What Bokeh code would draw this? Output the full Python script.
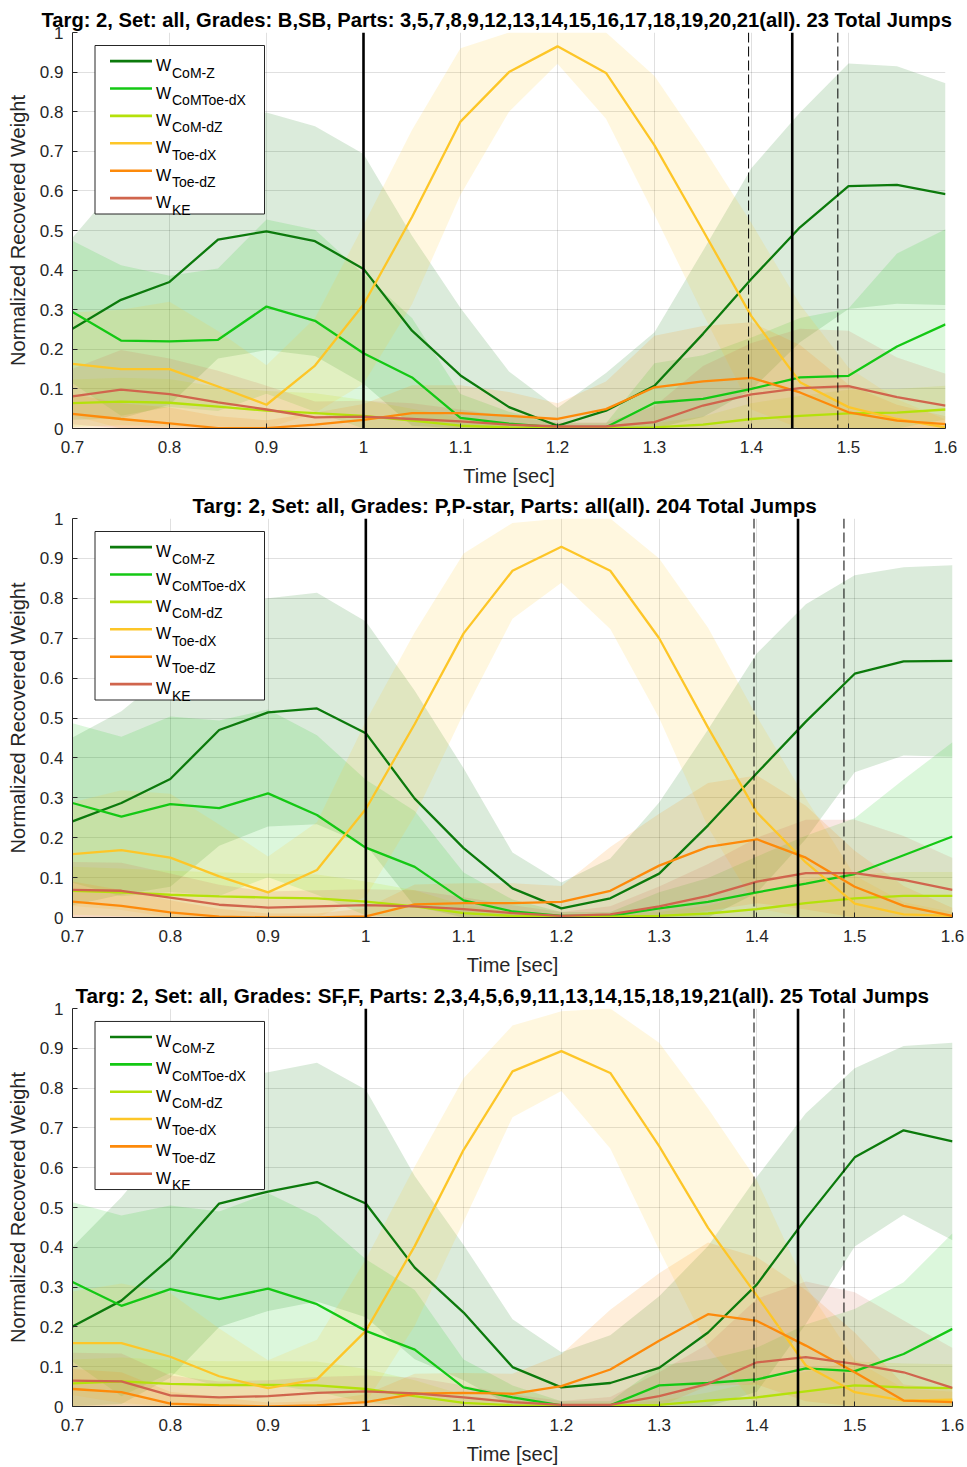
import numpy as np
from bokeh.plotting import figure
from bokeh.models import Span, BoxAnnotation, Label, FixedTicker, Range1d
from bokeh.layouts import column
from bokeh.embed import file_html
from bokeh.resources import INLINE

TIME = [0.7, 0.75, 0.8, 0.85, 0.9, 0.95, 1.0, 1.05, 1.1, 1.15, 1.2, 1.25, 1.3, 1.35, 1.4, 1.45, 1.5, 1.55, 1.6]
X_TICKS = [0.7, 0.8, 0.9, 1.0, 1.1, 1.2, 1.3, 1.4, 1.5, 1.6]
Y_TICKS = [0.0, 0.1, 0.2, 0.3, 0.4, 0.5, 0.6, 0.7, 0.8, 0.9, 1.0]

SERIES = ["CoM-Z", "CoMToe-dX", "CoM-dZ", "Toe-dX", "Toe-dZ", "KE"]
COLORS = ["#0c7a0c", "#14c814", "#b4e10a", "#fdc628", "#fd8a0a", "#d0654d"]

SOLID_EVENTS = [1.0, 1.442]
DASHED_EVENTS = [1.397, 1.489]

TITLES = [
    "Targ: 2, Set: all, Grades: B,SB, Parts: 3,5,7,8,9,12,13,14,15,16,17,18,19,20,21(all). 23 Total Jumps",
    "Targ: 2, Set: all, Grades: P,P-star, Parts: all(all). 204 Total Jumps",
    "Targ: 2, Set: all, Grades: SF,F, Parts: 2,3,4,5,6,9,11,13,14,15,18,19,21(all). 25 Total Jumps",
]

# ---- panel 1 (B,SB) means and spreads
P1_COMZ = [0.252, 0.325, 0.370, 0.477, 0.498, 0.473, 0.403, 0.247, 0.134, 0.054, 0.007, 0.045, 0.108, 0.239, 0.378, 0.508, 0.612, 0.615, 0.592]
P1_COMTOE = [0.294, 0.222, 0.220, 0.224, 0.308, 0.272, 0.190, 0.129, 0.027, 0.012, 0.003, 0.003, 0.065, 0.075, 0.100, 0.129, 0.133, 0.207, 0.263]
P1_COMDZ = [0.064, 0.068, 0.065, 0.055, 0.045, 0.039, 0.032, 0.020, 0.007, 0.003, 0.001, 0.001, 0.003, 0.010, 0.024, 0.032, 0.038, 0.040, 0.048]
P1_TOEDX = [0.163, 0.150, 0.150, 0.106, 0.060, 0.159, 0.313, 0.534, 0.775, 0.900, 0.965, 0.898, 0.715, 0.500, 0.283, 0.117, 0.054, 0.024, 0.003]
P1_TOEDZ = [0.037, 0.024, 0.013, 0.001, 0.001, 0.010, 0.022, 0.039, 0.039, 0.032, 0.024, 0.049, 0.104, 0.119, 0.128, 0.091, 0.041, 0.020, 0.011]
P1_KE = [0.081, 0.098, 0.087, 0.066, 0.048, 0.028, 0.030, 0.024, 0.018, 0.010, 0.005, 0.005, 0.016, 0.058, 0.086, 0.102, 0.107, 0.079, 0.058]
P1_COMZ_SD = [0.23, 0.30, 0.31, 0.30, 0.30, 0.29, 0.29, 0.24, 0.17, 0.09, 0.045, 0.095, 0.135, 0.21, 0.28, 0.29, 0.31, 0.30, 0.28]
P1_COMTOE_SD = [0.18, 0.19, 0.166, 0.18, 0.22, 0.23, 0.20, 0.15, 0.06, 0.03, 0.01, 0.01, 0.10, 0.11, 0.13, 0.15, 0.17, 0.235, 0.24]
P1_COMDZ_SD = [0.06, 0.06, 0.06, 0.05, 0.05, 0.05, 0.04, 0.03, 0.02, 0.01, 0.005, 0.005, 0.01, 0.02, 0.04, 0.05, 0.06, 0.06, 0.06]
P1_TOEDX_SD = [0.13, 0.15, 0.17, 0.14, 0.10, 0.12, 0.20, 0.22, 0.185, 0.10, 0.044, 0.116, 0.175, 0.21, 0.235, 0.196, 0.10, 0.05, 0.02]
P1_TOEDZ_SD = [0.05, 0.04, 0.04, 0.03, 0.02, 0.03, 0.04, 0.07, 0.07, 0.06, 0.04, 0.07, 0.13, 0.14, 0.14, 0.12, 0.07, 0.04, 0.02]
P1_KE_SD = [0.07, 0.10, 0.09, 0.08, 0.06, 0.04, 0.04, 0.04, 0.03, 0.02, 0.01, 0.01, 0.04, 0.10, 0.13, 0.15, 0.14, 0.10, 0.08]

# ---- panel 2 (P,P-star)
P2_COMZ = [0.241, 0.287, 0.347, 0.470, 0.514, 0.524, 0.462, 0.298, 0.174, 0.073, 0.023, 0.048, 0.110, 0.231, 0.362, 0.491, 0.611, 0.642, 0.643]
P2_COMTOE = [0.287, 0.253, 0.284, 0.274, 0.311, 0.257, 0.175, 0.127, 0.043, 0.015, 0.004, 0.004, 0.023, 0.039, 0.063, 0.085, 0.109, 0.156, 0.203]
P2_COMDZ = [0.067, 0.063, 0.057, 0.053, 0.050, 0.048, 0.040, 0.028, 0.011, 0.004, 0.002, 0.002, 0.004, 0.010, 0.021, 0.036, 0.048, 0.054, 0.054]
P2_TOEDX = [0.159, 0.169, 0.150, 0.103, 0.063, 0.119, 0.272, 0.485, 0.712, 0.869, 0.929, 0.869, 0.700, 0.476, 0.263, 0.138, 0.035, 0.008, 0.004]
P2_TOEDZ = [0.040, 0.029, 0.013, 0.002, 0.000, 0.000, 0.003, 0.033, 0.036, 0.036, 0.039, 0.067, 0.130, 0.177, 0.196, 0.150, 0.077, 0.029, 0.004]
P2_KE = [0.069, 0.067, 0.050, 0.032, 0.025, 0.028, 0.031, 0.028, 0.021, 0.011, 0.004, 0.008, 0.028, 0.054, 0.090, 0.111, 0.111, 0.094, 0.069]
P2_COMZ_SD = [0.21, 0.23, 0.27, 0.29, 0.286, 0.29, 0.28, 0.27, 0.20, 0.09, 0.065, 0.10, 0.178, 0.24, 0.30, 0.294, 0.247, 0.236, 0.24]
P2_COMTOE_SD = [0.20, 0.20, 0.22, 0.22, 0.21, 0.20, 0.17, 0.14, 0.07, 0.03, 0.01, 0.01, 0.04, 0.06, 0.09, 0.12, 0.14, 0.19, 0.236]
P2_COMDZ_SD = [0.06, 0.06, 0.06, 0.06, 0.06, 0.06, 0.05, 0.04, 0.02, 0.01, 0.005, 0.005, 0.01, 0.02, 0.04, 0.06, 0.06, 0.06, 0.06]
P2_TOEDX_SD = [0.13, 0.15, 0.16, 0.13, 0.09, 0.12, 0.22, 0.23, 0.20, 0.12, 0.09, 0.146, 0.20, 0.25, 0.24, 0.16, 0.07, 0.03, 0.01]
P2_TOEDZ_SD = [0.05, 0.04, 0.03, 0.02, 0.01, 0.01, 0.02, 0.05, 0.05, 0.05, 0.04, 0.11, 0.13, 0.16, 0.16, 0.13, 0.09, 0.05, 0.02]
P2_KE_SD = [0.07, 0.07, 0.06, 0.05, 0.04, 0.04, 0.04, 0.04, 0.03, 0.02, 0.01, 0.02, 0.05, 0.08, 0.11, 0.134, 0.134, 0.11, 0.08]

# ---- panel 3 (SF,F)
P3_COMZ = [0.201, 0.266, 0.372, 0.510, 0.540, 0.564, 0.510, 0.349, 0.236, 0.099, 0.048, 0.059, 0.097, 0.186, 0.307, 0.472, 0.626, 0.694, 0.666]
P3_COMTOE = [0.313, 0.253, 0.295, 0.270, 0.296, 0.257, 0.190, 0.143, 0.048, 0.023, 0.003, 0.003, 0.053, 0.059, 0.068, 0.096, 0.089, 0.132, 0.195]
P3_COMDZ = [0.058, 0.063, 0.057, 0.054, 0.054, 0.053, 0.044, 0.026, 0.009, 0.003, 0.001, 0.003, 0.004, 0.015, 0.023, 0.038, 0.053, 0.048, 0.046]
P3_TOEDX = [0.159, 0.159, 0.125, 0.076, 0.046, 0.068, 0.190, 0.403, 0.645, 0.842, 0.893, 0.838, 0.654, 0.449, 0.278, 0.103, 0.036, 0.015, 0.017]
P3_TOEDZ = [0.044, 0.036, 0.007, 0.003, 0.000, 0.003, 0.011, 0.032, 0.034, 0.032, 0.051, 0.093, 0.165, 0.232, 0.215, 0.153, 0.086, 0.015, 0.011]
P3_KE = [0.065, 0.063, 0.028, 0.023, 0.026, 0.034, 0.038, 0.033, 0.023, 0.011, 0.004, 0.004, 0.026, 0.057, 0.111, 0.124, 0.107, 0.086, 0.047]
P3_COMZ_SD = [0.20, 0.26, 0.30, 0.31, 0.30, 0.30, 0.286, 0.23, 0.17, 0.12, 0.088, 0.12, 0.18, 0.217, 0.27, 0.265, 0.224, 0.212, 0.248]
P3_COMTOE_SD = [0.20, 0.227, 0.21, 0.22, 0.24, 0.22, 0.18, 0.15, 0.07, 0.03, 0.01, 0.01, 0.05, 0.06, 0.08, 0.11, 0.156, 0.18, 0.24]
P3_COMDZ_SD = [0.06, 0.06, 0.06, 0.06, 0.06, 0.06, 0.05, 0.04, 0.02, 0.01, 0.005, 0.005, 0.01, 0.02, 0.04, 0.05, 0.06, 0.06, 0.06]
P3_TOEDX_SD = [0.13, 0.15, 0.16, 0.12, 0.07, 0.10, 0.18, 0.20, 0.18, 0.115, 0.10, 0.19, 0.26, 0.30, 0.29, 0.20, 0.08, 0.03, 0.02]
P3_TOEDZ_SD = [0.05, 0.05, 0.03, 0.02, 0.01, 0.01, 0.02, 0.05, 0.05, 0.05, 0.08, 0.15, 0.17, 0.18, 0.16, 0.14, 0.10, 0.04, 0.03]
P3_KE_SD = [0.07, 0.07, 0.05, 0.04, 0.04, 0.04, 0.04, 0.04, 0.03, 0.02, 0.01, 0.02, 0.06, 0.10, 0.16, 0.19, 0.18, 0.13, 0.10]

PANELS = [
    ([P1_COMZ, P1_COMTOE, P1_COMDZ, P1_TOEDX, P1_TOEDZ, P1_KE],
     [P1_COMZ_SD, P1_COMTOE_SD, P1_COMDZ_SD, P1_TOEDX_SD, P1_TOEDZ_SD, P1_KE_SD]),
    ([P2_COMZ, P2_COMTOE, P2_COMDZ, P2_TOEDX, P2_TOEDZ, P2_KE],
     [P2_COMZ_SD, P2_COMTOE_SD, P2_COMDZ_SD, P2_TOEDX_SD, P2_TOEDZ_SD, P2_KE_SD]),
    ([P3_COMZ, P3_COMTOE, P3_COMDZ, P3_TOEDX, P3_TOEDZ, P3_KE],
     [P3_COMZ_SD, P3_COMTOE_SD, P3_COMDZ_SD, P3_TOEDX_SD, P3_TOEDZ_SD, P3_KE_SD]),
]

# layout (pixels): width, height, top border, bottom border, right border, title offset, title size
LAYOUT = [(960, 490, 32, 62, 15, -31, "20.2px"), (967, 490, 28, 63, 15, 120, "20.7px"),
          (967, 487, 27, 61, 15, 3, "20.7px")]
LEFT = 72
FONT = "Liberation Sans"
TXT = "#262626"


def make_panel(idx):
    means, sds = PANELS[idx]
    width, height, top, bottom, right, toff, tsize = LAYOUT[idx]
    p = figure(width=width, height=height, x_range=Range1d(0.7, 1.6), y_range=Range1d(0, 1),
               output_backend="svg", toolbar_location=None,
               min_border_left=LEFT, min_border_right=right,
               min_border_top=top, min_border_bottom=bottom, title=TITLES[idx])
    p.title.text_font = FONT
    p.title.text_font_style = "bold"
    p.title.text_font_size = tsize
    p.title.align = "left"
    p.title.offset = toff
    p.title.standoff = 3
    p.title.text_color = "#000000"
    p.outline_line_color = None
    p.background_fill_color = "white"
    p.border_fill_color = "white"

    p.xaxis.ticker = FixedTicker(ticks=X_TICKS)
    p.yaxis.ticker = FixedTicker(ticks=Y_TICKS)
    p.xaxis.major_label_overrides = {1: "1"}
    p.yaxis.major_label_overrides = {0: "0", 1: "1"}
    for ax in (p.xaxis[0], p.yaxis[0]):
        ax.axis_line_color = TXT
        ax.major_tick_line_color = TXT
        ax.major_tick_in = 5
        ax.major_tick_out = 0
        ax.minor_tick_line_color = None
        ax.major_label_text_font = FONT
        ax.major_label_text_font_size = "17px"
        ax.major_label_text_color = TXT
        ax.axis_label_text_font = FONT
        ax.axis_label_text_font_size = "20px"
        ax.axis_label_text_font_style = "normal"
        ax.axis_label_text_color = TXT
    p.xaxis.major_label_standoff = 12
    p.yaxis.major_label_standoff = 9
    p.xaxis.axis_label = "Time [sec]"
    p.xaxis.axis_label_standoff = 9
    p.yaxis.axis_label = "Normalized Recovered Weight"
    p.yaxis.axis_label_standoff = 8
    p.grid.grid_line_color = "#000000"
    p.grid.grid_line_alpha = 0.12

    # shaded spreads
    for m, s, c in zip(means, sds, COLORS):
        m = np.array(m)
        s = np.array(s)
        p.varea(x=TIME, y1=np.clip(m - s, 0, 1), y2=np.clip(m + s, 0, 1),
                fill_color=c, fill_alpha=0.15)
    # mean curves
    for m, c in zip(means, COLORS):
        p.line(TIME, m, line_color=c, line_width=2.3)

    for loc in SOLID_EVENTS:
        p.add_layout(Span(location=loc, dimension="height", line_color="black", line_width=2.6))
    for loc in DASHED_EVENTS:
        p.add_layout(Span(location=loc, dimension="height", line_color="black", line_width=1,
                          line_dash="10 4"))

    # hand-built legend with subscripts
    fw = width - LEFT - right
    fh = height - top - bottom

    def dx(px):
        return 0.7 + px / fw * 0.9

    def dy(py):
        return 1 - py / fh

    bl, bt, bw, bh = 22.5, 13, 169.5, 168.5
    p.add_layout(BoxAnnotation(left=dx(bl), right=dx(bl + bw), top=dy(bt), bottom=dy(bt + bh),
                               fill_color="white", fill_alpha=1.0, line_color=TXT, line_width=1,
                               line_alpha=1.0))
    for i, (name, c) in enumerate(zip(SERIES, COLORS)):
        ly = bt + 15.6 + 27.4 * i
        p.add_layout(BoxAnnotation(left=dx(bl + 15), right=dx(bl + 57), top=dy(ly - 1.3),
                                   bottom=dy(ly + 1.3), fill_color=c, fill_alpha=1.0,
                                   line_color=None))
        p.add_layout(Label(x=dx(bl + 61), y=dy(ly + 4.5), text="W", text_font=FONT,
                           text_font_size="16px", text_color="#000000",
                           text_baseline="alphabetic"))
        p.add_layout(Label(x=dx(bl + 77), y=dy(ly + 11.5), text=name, text_font=FONT,
                           text_font_size="14px", text_color="#000000",
                           text_baseline="alphabetic"))
    return p


figs = [make_panel(i) for i in range(3)]
layout = column(*figs, spacing=0)
open("out.html", "w").write(file_html(layout, INLINE))
